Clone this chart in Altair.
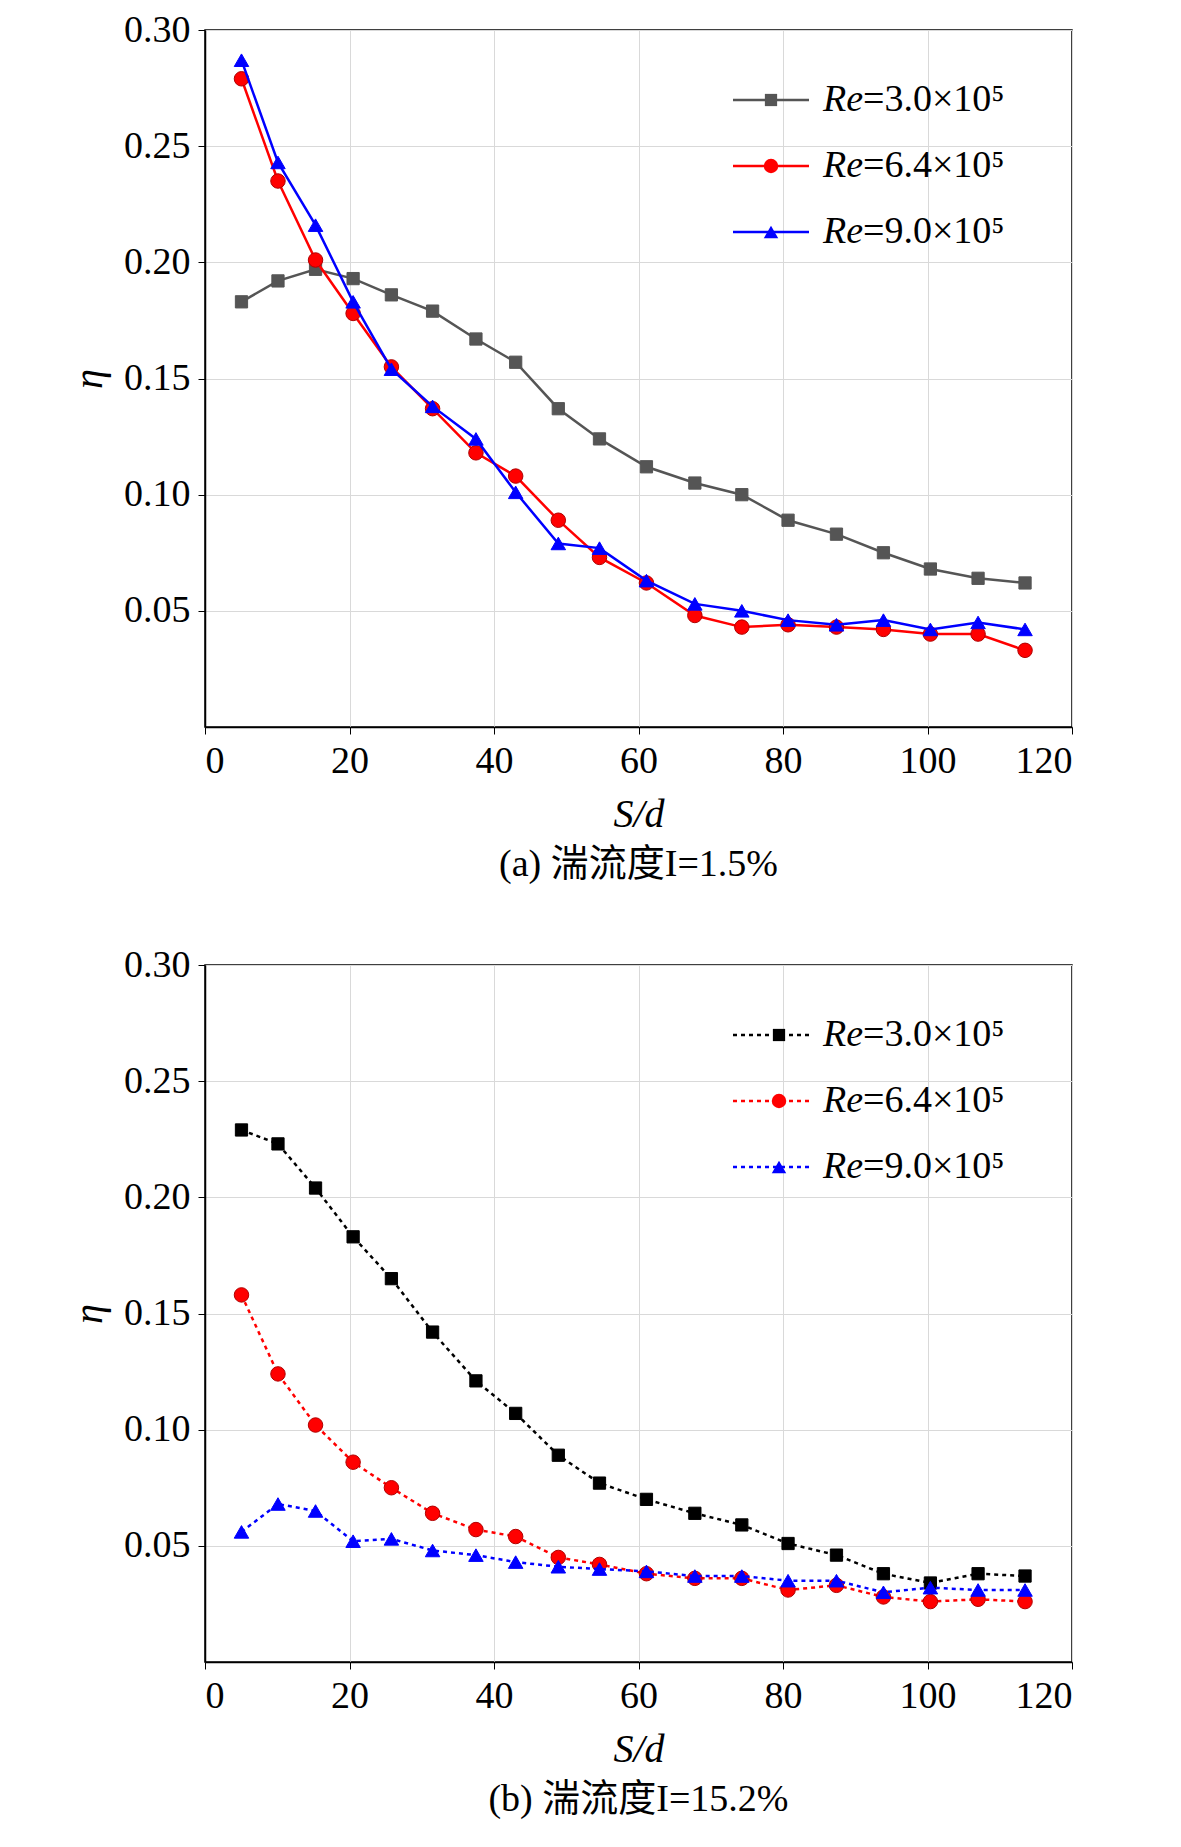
import altair as alt
import pandas as pd

sd = [5.05, 10.1, 15.3, 20.5, 25.8, 31.5, 37.5, 43.0, 48.9, 54.6, 61.1, 67.8, 74.3, 80.7, 87.4, 93.9, 100.4, 107.0, 113.5]

a_re30 = [0.183, 0.192, 0.197, 0.193, 0.186, 0.179, 0.167, 0.157, 0.137, 0.124, 0.112, 0.105, 0.100, 0.089, 0.083, 0.075, 0.068, 0.064, 0.062]
a_re64 = [0.279, 0.235, 0.201, 0.178, 0.155, 0.137, 0.118, 0.108, 0.089, 0.073, 0.062, 0.048, 0.043, 0.044, 0.043, 0.042, 0.040, 0.040, 0.033]
a_re90 = [0.287, 0.243, 0.216, 0.183, 0.154, 0.138, 0.124, 0.101, 0.079, 0.077, 0.063, 0.053, 0.050, 0.046, 0.044, 0.046, 0.042, 0.045, 0.042]

b_re30 = [0.229, 0.223, 0.204, 0.183, 0.165, 0.142, 0.121, 0.107, 0.089, 0.077, 0.070, 0.064, 0.059, 0.051, 0.046, 0.038, 0.034, 0.038, 0.037]
b_re64 = [0.158, 0.124, 0.102, 0.086, 0.075, 0.064, 0.057, 0.054, 0.045, 0.042, 0.038, 0.036, 0.036, 0.031, 0.033, 0.028, 0.026, 0.027, 0.026]
b_re90 = [0.056, 0.068, 0.065, 0.052, 0.053, 0.048, 0.046, 0.043, 0.041, 0.040, 0.039, 0.037, 0.037, 0.035, 0.035, 0.030, 0.032, 0.031, 0.031]

labels = ["=3.0×10⁵", "=6.4×10⁵", "=9.0×10⁵"]
shapes = ["square", "circle", "triangle-up"]
sizes = [150, 210, 210]

FONT = "Liberation Serif, Noto Sans CJK SC"
W, H = 867, 697


def panel(series, colors, dash, caption):
    layers = []
    for i, (vals, col) in enumerate(zip(series, colors)):
        df = pd.DataFrame({"sd": sd, "eta": vals})
        base = alt.Chart(df).encode(
            x=alt.X("sd:Q", scale=alt.Scale(domain=[0, 120], nice=False),
                    axis=alt.Axis(values=[0, 20, 40, 60, 80, 100, 120], title="S/d",
                                  titleFontStyle="italic")),
            y=alt.Y("eta:Q", scale=alt.Scale(domain=[0, 0.30], nice=False),
                    axis=alt.Axis(values=[0.05, 0.10, 0.15, 0.20, 0.25, 0.30], format=".2f",
                                  title="η", titleFontStyle="italic")),
        )
        line_kw = dict(color=col, strokeWidth=2.5)
        if dash:
            line_kw["strokeDash"] = [4, 4]
        layers.append(base.mark_line(**line_kw))
        layers.append(base.mark_point(shape=shapes[i], filled=True, opacity=1, size=sizes[i],
                                      color=col, stroke="#b00000" if i == 1 else col, strokeWidth=1))
        # legend row
        ly = 70 + 66 * i
        lkw = dict(color=col, strokeWidth=2.5)
        if dash:
            lkw["strokeDash"] = [4, 4]
        layers.append(alt.Chart().mark_rule(**lkw).encode(
            x=alt.value(528), x2=alt.value(604), y=alt.value(ly)))
        layers.append(alt.Chart().mark_point(shape=shapes[i], filled=True, opacity=1,
                                             size=sizes[i], color=col).encode(
            x=alt.value(566 if not dash else 574), y=alt.value(ly)))
        layers.append(alt.Chart().mark_text(text="Re", font=FONT, fontSize=38, fontStyle="italic",
                                            align="left", baseline="middle", color="black").encode(
            x=alt.value(618), y=alt.value(ly)))
        layers.append(alt.Chart().mark_text(text=labels[i], font=FONT, fontSize=38,
                                            align="left", baseline="middle", color="black").encode(
            x=alt.value(658), y=alt.value(ly)))
    return alt.layer(*layers).properties(
        width=W, height=H,
        title=alt.TitleParams(caption, orient="bottom", font=FONT, fontSize=38,
                              fontWeight="normal", offset=12),
    )


top = panel([a_re30, a_re64, a_re90], ["#555555", "#ff0000", "#0000ff"], False, "(a) 湍流度I=1.5%")
bot = panel([b_re30, b_re64, b_re90], ["#000000", "#ff0000", "#0000ff"], True, "(b) 湍流度I=15.2%")

chart = alt.vconcat(top, bot, spacing=60).configure_axis(
    labelFont=FONT, titleFont=FONT, labelFontSize=38, titleFontSize=40, titleFontWeight="normal",
    labelColor="black", titleColor="black", domainColor="black", tickColor="black",
    gridColor="#d9d9d9", tickSize=7, labelPadding=8, domainWidth=1.5, titlePadding=14,
).configure_view(stroke="black", strokeWidth=1.5).properties(
    padding={"left": 60, "top": 2, "right": 40, "bottom": 10}
)

chart.save("out.html", embed_options={"renderer": "svg", "actions": False})
